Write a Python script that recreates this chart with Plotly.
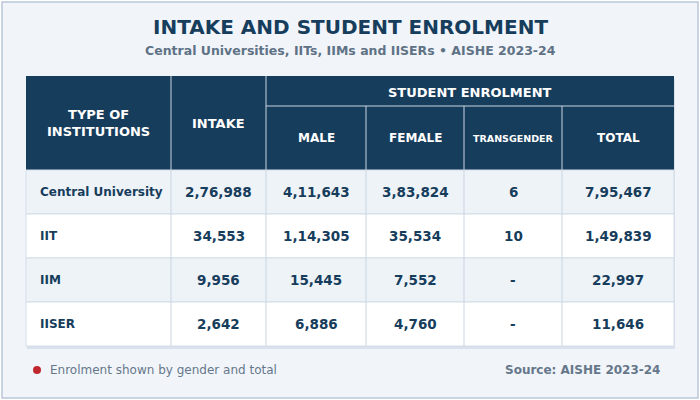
import plotly.graph_objects as go

title = "INTAKE AND STUDENT ENROLMENT"
subtitle = "Central Universities, IITs, IIMs and IISERs • AISHE 2023-24"
institutions = ["Central University", "IIT", "IIM", "IISER"]
intake = ["2,76,988", "34,553", "9,956", "2,642"]
male = ["4,11,643", "1,14,305", "15,445", "6,886"]
female = ["3,83,824", "35,534", "7,552", "4,760"]
transgender = ["6", "10", "-", "-"]
total = ["7,95,467", "1,49,839", "22,997", "11,646"]
sub_headers = ["MALE", "FEMALE", "TRANSGENDER", "TOTAL"]
footer_note = "Enrolment shown by gender and total"
source = "Source: AISHE 2023-24"

NAVY = "#173d5c"
FONT = "DejaVu Sans"
cols = [26, 171, 266, 366, 464, 562, 674]
top, hmid, hbot = 76, 106, 170
rowh = 44

shapes, ann = [], []
shapes.append(dict(type="rect", x0=2, y0=2, x1=698, y1=398, line=dict(color="#b9c8d8", width=1.5),
                   fillcolor="#f1f5fa", layer="below"))
shapes.append(dict(type="rect", x0=cols[0]+1, y0=top+3, x1=cols[-1]+1, y1=hbot+4*rowh+3,
                   fillcolor="#d9e2ec", line=dict(width=0), layer="below"))
shapes.append(dict(type="rect", x0=cols[0], y0=top, x1=cols[-1], y1=hbot, fillcolor=NAVY, line=dict(width=0), layer="below"))
data = list(zip(institutions, intake, male, female, transgender, total))
for i, row in enumerate(data):
    y0 = hbot + i * rowh
    shapes.append(dict(type="rect", x0=cols[0], y0=y0, x1=cols[-1], y1=y0 + rowh,
                       fillcolor="#eef3f8" if i % 2 == 0 else "#ffffff",
                       line=dict(color="#d3dde7", width=1), layer="below"))
    for j, v in enumerate(row):
        if j == 0:
            ann.append(dict(x=cols[0] + 12, y=y0 + rowh / 2, text=f"<b>{v}</b>", xanchor="left",
                            font=dict(size=12, color=NAVY, family=FONT)))
        else:
            ann.append(dict(x=(cols[j] + cols[j + 1]) / 2, y=y0 + rowh / 2, text=f"<b>{v}</b>",
                            font=dict(size=13.5, color=NAVY, family=FONT)))
for k, x in enumerate(cols[1:-1]):
    shapes.append(dict(type="line", x0=x, x1=x, y0=(top if k < 2 else hmid), y1=hbot + 4 * rowh,
                       line=dict(color="#c9d5e1", width=1)))
shapes.append(dict(type="line", x0=cols[2], x1=cols[-1], y0=hmid, y1=hmid, line=dict(color="#c9d5e1", width=1)))
ann.append(dict(x=(cols[0] + cols[1]) / 2, y=(top + hbot) / 2, text="<b>TYPE OF<br>INSTITUTIONS</b>",
                font=dict(size=13, color="white", family=FONT)))
ann.append(dict(x=(cols[1] + cols[2]) / 2, y=(top + hbot) / 2, text="<b>INTAKE</b>",
                font=dict(size=13, color="white", family=FONT)))
ann.append(dict(x=(cols[2] + cols[-1]) / 2, y=(top + hmid) / 2 + 1, text="<b>STUDENT ENROLMENT</b>",
                font=dict(size=13, color="white", family=FONT)))
for j, h in enumerate(sub_headers):
    ann.append(dict(x=(cols[j + 2] + cols[j + 3]) / 2, y=(hmid + hbot) / 2, text=f"<b>{h}</b>",
                    font=dict(size=9.5 if h == "TRANSGENDER" else 12, color="white", family=FONT)))
ann.append(dict(x=350, y=27, text=f"<b>{title}</b>", font=dict(size=20, color=NAVY, family=FONT)))
ann.append(dict(x=350, y=50, text=f"<b>{subtitle}</b>", font=dict(size=12.5, color="#5f7285", family=FONT)))
shapes.append(dict(type="circle", x0=33, x1=41, y0=366, y1=374, fillcolor="#c0282f", line=dict(width=0)))
ann.append(dict(x=48, y=370, text=footer_note, xanchor="left", font=dict(size=12, color="#66778a", family=FONT)))
ann.append(dict(x=662, y=370, text=f"<b>{source}</b>", xanchor="right", font=dict(size=12, color="#66778a", family=FONT)))
for a in ann:
    a.update(xref="x", yref="y", showarrow=False)

fig = go.Figure()
fig.update_layout(width=700, height=400, margin=dict(l=0, r=0, t=0, b=0),
                  paper_bgcolor="white", plot_bgcolor="white", shapes=shapes, annotations=ann,
                  xaxis=dict(range=[0, 700], visible=False, fixedrange=True),
                  yaxis=dict(range=[400, 0], visible=False, fixedrange=True), showlegend=False)
fig.write_html("out.html", config={"displayModeBar": False},
               post_script="document.body.style.margin='0';document.body.style.overflow='hidden';")
